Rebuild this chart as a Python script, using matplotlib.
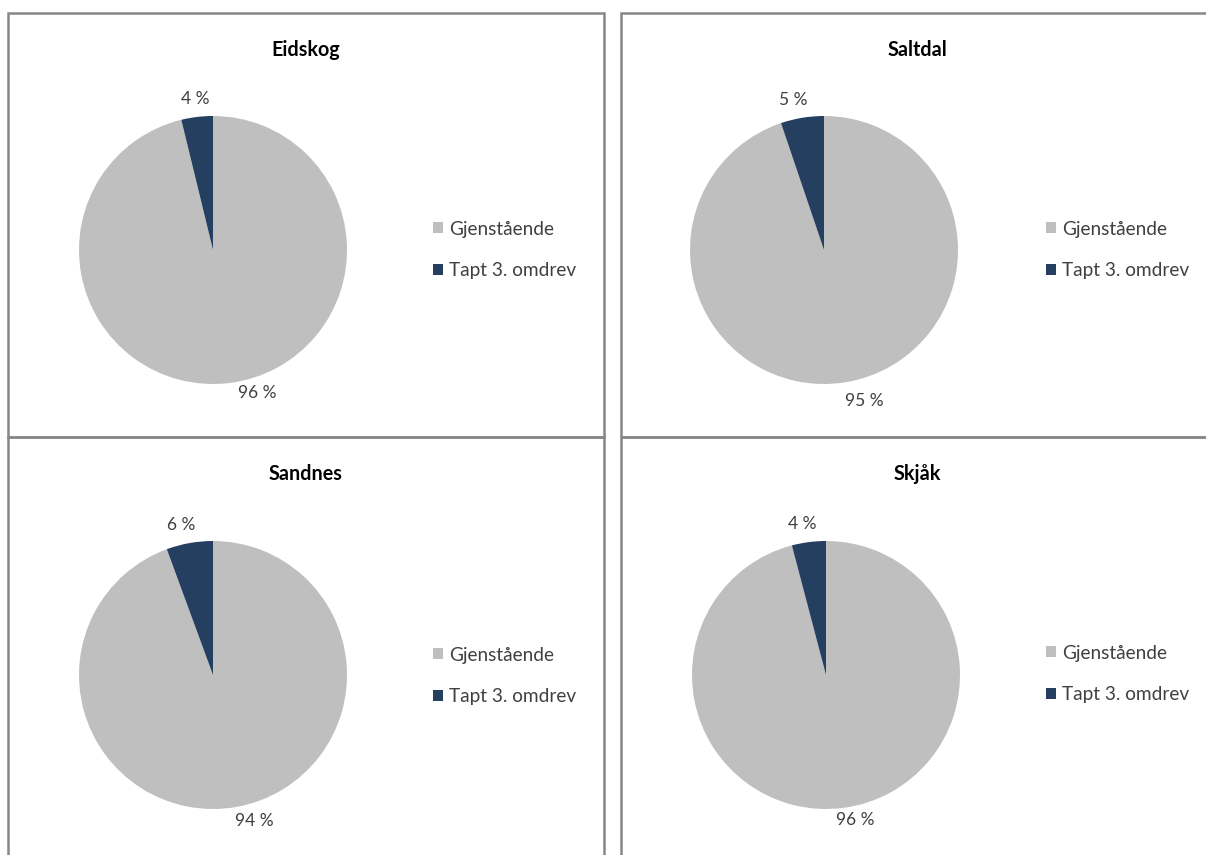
import matplotlib
matplotlib.use("Agg")
import matplotlib.pyplot as plt
from matplotlib.patches import Rectangle

# data
kommuner = ["Eidskog", "Saltdal", "Sandnes", "Skjåk"]
kategorier = ["Gjenstående", "Tapt 3. omdrev"]
tapt = [3.8, 5.2, 5.6, 4.1]   # % tapt 3. omdrev
gjenstaende = [100 - t for t in tapt]

farger = ["#BFBFBF", "#243F60"]
tekst = "#404040"

plt.rcParams["font.family"] = ["Lato", "DejaVu Sans"]

W, H = 1206, 855
fig = plt.figure(figsize=(W / 100, H / 100), dpi=100)

def fx(x):
    return x / W

def fy(y):
    return 1 - y / H

# layout (pixels, y down): panel box, pie centre, title y, legend x
paneler = [(8, 13, 604, 437), (621, 13, 1213, 437), (8, 437, 604, 862), (621, 437, 1213, 862)]
sentre = [(213, 250), (824, 250), (213, 675), (826, 675)]
tittel_y = [50, 50, 474, 474]
legend_pos = [(433, 250), (1046, 250), (433, 676), (1046, 674)]
R = 134
# label positions in pie-radius units: (small wedge, big wedge)
etikett_pos = [((-0.13, 1.13), (0.33, -1.07)),
               ((-0.23, 1.12), (0.30, -1.13)),
               ((-0.24, 1.12), (0.31, -1.09)),
               ((-0.18, 1.13), (0.22, -1.08))]

for i, navn in enumerate(kommuner):
    x0, y0, x1, y1 = paneler[i]
    fig.patches.append(Rectangle((fx(x0), fy(y1)), fx(x1 - x0), (y1 - y0) / H,
                                 transform=fig.transFigure, fill=False,
                                 edgecolor="#878787", linewidth=1.8, zorder=0))
    fig.text(fx((x0 + x1) / 2), fy(tittel_y[i]), navn, ha="center", va="center",
             fontsize=14.2, fontweight="bold", color="black")

    cx, cy = sentre[i]
    ax = fig.add_axes([fx(cx - R), fy(cy + R), 2 * R / W, 2 * R / H])
    verdier = [gjenstaende[i], tapt[i]]
    kiler, _ = ax.pie(verdier, colors=farger, startangle=90, counterclock=False,
                      radius=1, wedgeprops=dict(linewidth=0))
    ax.set_xlim(-1, 1)
    ax.set_ylim(-1, 1)
    ax.axis("off")

    (sx, sy), (bx, by) = etikett_pos[i]
    ax.text(bx, by, f"{round(verdier[0]):d} %", ha="center", va="center",
            fontsize=12.5, color=tekst)
    ax.text(sx, sy, f"{round(verdier[1]):d} %", ha="center", va="center",
            fontsize=12.5, color=tekst)

    lx, ly = legend_pos[i]
    fig.legend(kiler, kategorier, loc="center left",
               bbox_to_anchor=(fx(lx), fy(ly)), frameon=False,
               fontsize=13.7, labelcolor=tekst, handlelength=0.5,
               handleheight=0.5, handletextpad=0.35, labelspacing=1.3,
               borderpad=0, borderaxespad=0)

fig.savefig("out.png", dpi=100, facecolor="white")
